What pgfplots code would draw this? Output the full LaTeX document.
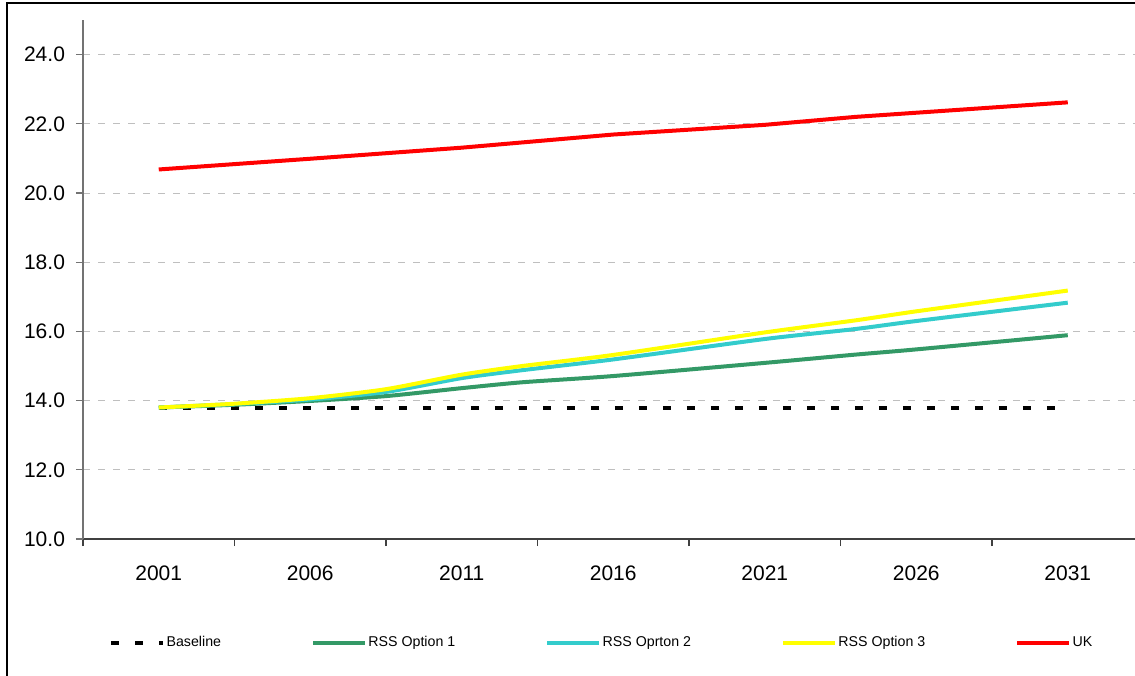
\documentclass[border=0pt]{standalone}
\usepackage{fontspec}
\setmainfont{Liberation Sans}
\usepackage{pgfplots}
\pgfplotsset{compat=1.18}
\definecolor{optone}{RGB}{51,153,102}
\definecolor{opttwo}{RGB}{51,204,204}
\definecolor{optthree}{RGB}{255,255,0}
\definecolor{ukred}{RGB}{255,0,0}
\begin{document}
\begin{tikzpicture}
\useasboundingbox (-41.5pt,-68pt) rectangle (526pt,269.5pt);
\clip (-41.5pt,-68pt) rectangle (526pt,269.5pt);
\draw[black, line width=0.8pt] (-38pt,-100pt) -- (-38pt,268pt) -- (600pt,268pt);
\begin{axis}[
  scale only axis,
  width=530.25pt, height=259.5pt,
  xmin=1998.5, xmax=2033.5,
  ymin=10, ymax=25,
  axis x line=bottom, axis y line=left,
  x axis line style={-, black!75, line width=0.6pt},
  y axis line style={-, black!55, line width=0.6pt},
  xtick={2001,2006,2011,2016,2021,2026,2031},
  minor xtick={1998.5,2003.5,2008.5,2013.5,2018.5,2023.5,2028.5},
  major x tick style={draw=none},
  minor x tick style={black!75, line width=0.6pt},
  minor tick length=3.5pt,
  ytick={10,12,14,16,18,20,22,24},
  y tick style={black!55, line width=0.6pt},
  major tick length=3.5pt,
  tick align=outside,
  ymajorgrids,
  major grid style={black!25, line width=0.5pt, dash pattern=on 3.5pt off 4pt},
  /pgf/number format/assume math mode=true,
  tick label style={font=\fontsize{10.5}{12}\selectfont, black},
  x tick label style={/pgf/number format/1000 sep={}, yshift=-6.5pt},
  y tick label style={/pgf/number format/.cd, fixed, fixed zerofill, precision=1, /tikz/.cd, xshift=-2pt},
  legend columns=5,
  legend image code/.code={\draw[#1] (0pt,0pt) -- (26pt,0pt);},
  legend style={at={(axis description cs:0.0245,-0.2)}, anchor=west,
    draw=none, fill=none, inner sep=0pt,
    font=\fontsize{7.1}{9}\selectfont,
    nodes={inner sep=0.6pt},
    /tikz/every even column/.append style={column sep=44.5pt}},
]
\addplot[black, line width=2pt, dash pattern=on 4pt off 8pt] coordinates {
(2001,13.8) (2031,13.8)};
\addlegendentry{Baseline}
\addplot[optone, line width=2pt, smooth, tension=0.4] coordinates {
(2001,13.80) (2003.5,13.88) (2006,13.99) (2008.5,14.13) (2011,14.36) (2013,14.53)
(2016,14.71) (2021,15.09) (2024,15.33) (2026,15.48) (2031,15.89)};
\addlegendentry{RSS Option 1}
\addplot[opttwo, line width=2pt, smooth, tension=0.4] coordinates {
(2001,13.80) (2003.5,13.90) (2006,14.03) (2008.5,14.25) (2011,14.65) (2013,14.88)
(2016,15.19) (2021,15.78) (2024,16.07) (2026,16.30) (2031,16.83)};
\addlegendentry{RSS Oprton 2}
\addplot[optthree, line width=2pt, smooth, tension=0.4] coordinates {
(2001,13.80) (2003.5,13.91) (2006,14.07) (2008.5,14.33) (2011,14.75) (2013,15.00)
(2016,15.32) (2021,15.97) (2024,16.32) (2026,16.58) (2031,17.18)};
\addlegendentry{RSS Option 3}
\addplot[ukred, line width=2pt] coordinates {
(2001,20.68) (2006,20.99) (2011,21.31) (2016,21.69) (2021,21.97) (2024,22.20) (2031,22.62)};
\addlegendentry{UK}
\end{axis}
\end{tikzpicture}
\end{document}
